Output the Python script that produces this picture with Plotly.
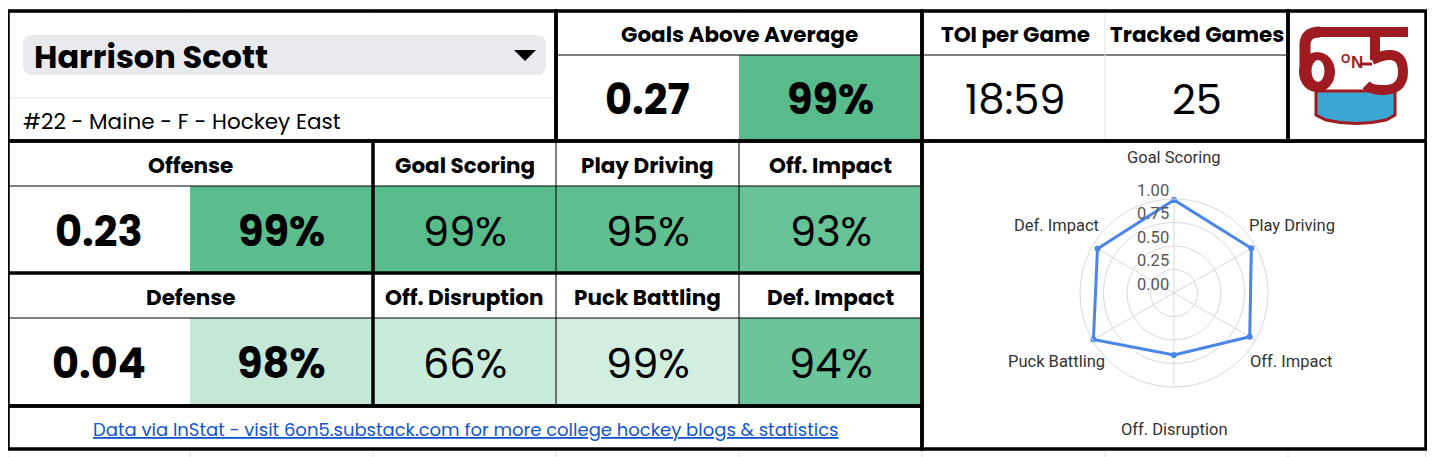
import math
import plotly.graph_objects as go

# ---- data ----
player_name = "Harrison Scott"
player_info = "#22 - Maine - F - Hockey East"
gaa_value = 0.27
gaa_pct = 99
toi_per_game = "18:59"
tracked_games = 25
offense_value = 0.23
offense_pct = 99
defense_value = 0.04
defense_pct = 98
offense_parts = ["Goal Scoring", "Play Driving", "Off. Impact"]
offense_part_pcts = [99, 95, 93]
defense_parts = ["Off. Disruption", "Puck Battling", "Def. Impact"]
defense_part_pcts = [66, 99, 94]
radar_ticks = [0, 0.25, 0.5, 0.75, 1.0]
footer_text = "Data via InStat - visit 6on5.substack.com for more college hockey blogs & statistics"

# ---- styling / layout ----
W, H = 1435, 457
OFF = 8  # page body margin, so axis units equal page pixels
FW, FH = W - OFF, H - OFF
COLS = [8, 190, 373, 556, 739, 922, 1105, 1288, 1426]
ROWS = [11, 55, 98, 141, 186, 230, 273, 318, 362, 406, 449]
FONT = "Poppins, Inter, sans-serif"
GRID = "#e2e3e3"
THICK = 3.5
HEAD = 21.5
BIG = 41.5
gaa_color = "#57bb8a"
offense_color = "#5bbd8d"
defense_color = "#c4e8d5"
offense_part_colors = ["#57bb8a", "#5fbf91", "#67c297"]
defense_part_colors = ["#c9ebda", "#d2eee0", "#6bc49a"]
LOGO_RED = "#9e1c21"
LOGO_BLUE = "#3ea6d2"

shapes = []
annotations = []


def rect(x0, x1, y0, y1, fill="white", line=None, width=0, layer="below"):
    shapes.append(dict(type="rect", xref="x", yref="y", x0=x0, x1=x1, y0=y0, y1=y1,
                       fillcolor=fill, line=dict(color=line or "rgba(0,0,0,0)", width=width),
                       layer=layer))


def seg(x0, y0, x1, y1, color="black", width=1, layer="above"):
    shapes.append(dict(type="line", xref="x", yref="y", x0=x0, y0=y0, x1=x1, y1=y1,
                       line=dict(color=color, width=width), layer=layer))


def path(d, fill="rgba(0,0,0,0)", line=None, width=0, layer="above"):
    shapes.append(dict(type="path", xref="x", yref="y", path=d, fillcolor=fill,
                       line=dict(color=line or "rgba(0,0,0,0)", width=width), layer=layer))


def ellipse(cx, cy, rx, ry, fill):
    shapes.append(dict(type="circle", xref="x", yref="y", x0=cx - rx, x1=cx + rx,
                       y0=cy - ry, y1=cy + ry, fillcolor=fill, line=dict(width=0),
                       layer="above"))


def txt(x, y, s, size, bold=False, color="black", xanchor="center", family=FONT):
    annotations.append(dict(x=x, y=y, xref="x", yref="y", text=s, showarrow=False,
                            xanchor=xanchor, yanchor="middle",
                            font=dict(family=family, size=size, color=color,
                                      weight=700 if bold else 400)))


def mid(a, b):
    return (a + b) / 2


# spreadsheet background grid
for x in COLS:
    seg(x, 0, x, H, GRID, 1, "below")
for y in ROWS:
    seg(0, y, W, y, GRID, 1, "below")

# white blocks
rect(COLS[0], COLS[5], ROWS[0], ROWS[9])
rect(COLS[0], COLS[5], ROWS[9], ROWS[10])
rect(COLS[5], COLS[8], ROWS[0], ROWS[10])

# name block
seg(COLS[0], ROWS[2], COLS[3], ROWS[2], GRID, 1, "below")
path("M 33,35 L 536,35 Q 546,35 546,45 L 546,65 Q 546,75 536,75 "
     "L 33,75 Q 23,75 23,65 L 23,45 Q 23,35 33,35 Z", "#e8eaed", layer="below")
path("M 514,50 L 536,50 L 525,61 Z", "black")
txt(32, 56, player_name, 32, bold=True, xanchor="left")
txt(21, 121, player_info, 21.5, xanchor="left")

# goals above average block
rect(COLS[4], COLS[5], ROWS[1], ROWS[3], gaa_color)
seg(COLS[3], ROWS[1], COLS[7], ROWS[1])
txt(mid(COLS[3], COLS[5]), 34, "Goals Above Average", HEAD, bold=True)
txt(mid(COLS[3], COLS[4]), 99, f"{gaa_value:.2f}", BIG, bold=True)
txt(mid(COLS[4], COLS[5]), 99, f"{gaa_pct}%", BIG, bold=True)

# TOI / tracked games block
seg(COLS[6], ROWS[0], COLS[6], ROWS[3], GRID, 1)
txt(mid(COLS[5], COLS[6]) + 2, 34, "TOI per Game", HEAD, bold=True)
txt(mid(COLS[6], COLS[7]), 34, "Tracked Games", HEAD, bold=True)
txt(mid(COLS[5], COLS[6]) + 2, 99, toi_per_game, BIG)
txt(mid(COLS[6], COLS[7]), 99, str(tracked_games), BIG)

# offense row
rect(COLS[1], COLS[2], ROWS[4], ROWS[6], offense_color)
for i, c in enumerate(offense_part_colors):
    rect(COLS[2 + i], COLS[3 + i], ROWS[4], ROWS[6], c)
txt(mid(COLS[0], COLS[2]), 165, "Offense", HEAD, bold=True)
txt(mid(COLS[0], COLS[1]), 231, f"{offense_value:.2f}", BIG, bold=True)
txt(mid(COLS[1], COLS[2]), 231, f"{offense_pct}%", BIG, bold=True)
for i, (name, p) in enumerate(zip(offense_parts, offense_part_pcts)):
    txt(mid(COLS[2 + i], COLS[3 + i]), 165, name, HEAD, bold=True)
    txt(mid(COLS[2 + i], COLS[3 + i]), 231, f"{p}%", BIG)

# defense row
rect(COLS[1], COLS[2], ROWS[7], ROWS[9], defense_color)
for i, c in enumerate(defense_part_colors):
    rect(COLS[2 + i], COLS[3 + i], ROWS[7], ROWS[9], c)
txt(mid(COLS[0], COLS[2]), 297, "Defense", HEAD, bold=True)
txt(mid(COLS[0], COLS[1]), 363, f"{defense_value:.2f}", BIG, bold=True)
txt(mid(COLS[1], COLS[2]), 363, f"{defense_pct}%", BIG, bold=True)
for i, (name, p) in enumerate(zip(defense_parts, defense_part_pcts)):
    txt(mid(COLS[2 + i], COLS[3 + i]), 297, name, HEAD, bold=True)
    txt(mid(COLS[2 + i], COLS[3 + i]), 363, f"{p}%", BIG)

# thin cell borders
seg(COLS[0], ROWS[4], COLS[5], ROWS[4])
seg(COLS[0], ROWS[7], COLS[5], ROWS[7])
for x in (COLS[3], COLS[4]):
    seg(x, ROWS[3], x, ROWS[9])

# footer
txt(mid(COLS[0], COLS[5]), 429, f"<u>{footer_text}</u>", 18, color="#1155cc")

# logo "6on5"
path("M 1316,91 L 1395,91 L 1395,115 L 1386,120 Q 1356,127 1326,120 L 1316,115 Z",
     LOGO_BLUE, LOGO_RED, 3)
rect(1316, 1408, 27, 37, LOGO_RED, layer="above")
ellipse(1317, 72, 18, 20, LOGO_RED)
ellipse(1318, 71, 6.5, 11, "white")
path("M 1305,72 L 1305,45 Q 1305,32 1320,32", line=LOGO_RED, width=11)
path("M 1375,32 L 1375,60", line=LOGO_RED, width=10)
path("M 1372,60 Q 1403,46 1403,72 Q 1403,91 1381,90 Q 1371,90 1366,85",
     line=LOGO_RED, width=10)
seg(1360, 64, 1372, 64, LOGO_RED, 3)
txt(1345, 59, "O", 12, bold=True, color=LOGO_RED, family="Liberation Sans, sans-serif")
txt(1357, 62, "N", 17, bold=True, color=LOGO_RED, family="Liberation Sans, sans-serif")

# thick block borders
for x0, x1, y0, y1 in [
    (COLS[0], COLS[3], ROWS[0], ROWS[3]),
    (COLS[3], COLS[5], ROWS[0], ROWS[3]),
    (COLS[5], COLS[7], ROWS[0], ROWS[3]),
    (COLS[7], COLS[8], ROWS[0], ROWS[3]),
    (COLS[0], COLS[5], ROWS[3], ROWS[9]),
    (COLS[0], COLS[5], ROWS[9], ROWS[10]),
    (COLS[5], COLS[8], ROWS[3], ROWS[10]),
]:
    rect(x0, x1, y0, y1, "rgba(0,0,0,0)", "black", THICK, "above")
seg(COLS[2], ROWS[3], COLS[2], ROWS[9], width=THICK)
seg(COLS[0], ROWS[6], COLS[5], ROWS[6], width=THICK)

# radar chart
radar_labels = offense_parts + defense_parts
radar_values = [p / 100 for p in offense_part_pcts + defense_part_pcts]
cx, cy, R = 1174, 293, 94
label_r = 136
for i, name in enumerate(radar_labels):
    a = math.radians(90 - 60 * i)
    txt(cx + label_r * math.cos(a), cy - label_r * math.sin(a), name, 16.5,
        color="#333333", family="Roboto, sans-serif")
for v in radar_ticks:
    txt(cx - 3, cy - R * v - 9, f"{v:.2f}", 16.5, color="#555555", xanchor="right",
        family="Roboto, sans-serif")

fig = go.Figure()
fig.add_trace(go.Scatter(x=[], y=[], showlegend=False, hoverinfo="skip"))
fig.add_trace(go.Scatterpolar(
    r=radar_values + radar_values[:1],
    theta=radar_labels + radar_labels[:1],
    mode="lines+markers",
    line=dict(color="#4a86e8", width=3),
    marker=dict(color="#4a86e8", size=6),
    showlegend=False,
))

fig.update_layout(
    width=FW, height=FH, autosize=False,
    margin=dict(l=0, r=0, t=0, b=0),
    paper_bgcolor="white", plot_bgcolor="rgba(0,0,0,0)",
    xaxis=dict(range=[OFF, W], visible=False, fixedrange=True),
    yaxis=dict(range=[H, OFF], visible=False, fixedrange=True),
    shapes=shapes,
    annotations=annotations,
    polar=dict(
        domain=dict(x=[(cx - R - OFF) / FW, (cx + R - OFF) / FW],
                    y=[1 - (cy + R - OFF) / FH, 1 - (cy - R - OFF) / FH]),
        bgcolor="rgba(0,0,0,0)",
        angularaxis=dict(rotation=90, direction="clockwise", showticklabels=False,
                         ticks="", gridcolor="#d9d9d9", linecolor="#d9d9d9"),
        radialaxis=dict(range=[0, 1], tickvals=radar_ticks, showticklabels=False,
                        angle=90, showline=False, ticks="", gridcolor="#d9d9d9"),
    ),
)

fig.write_html("out.html")
